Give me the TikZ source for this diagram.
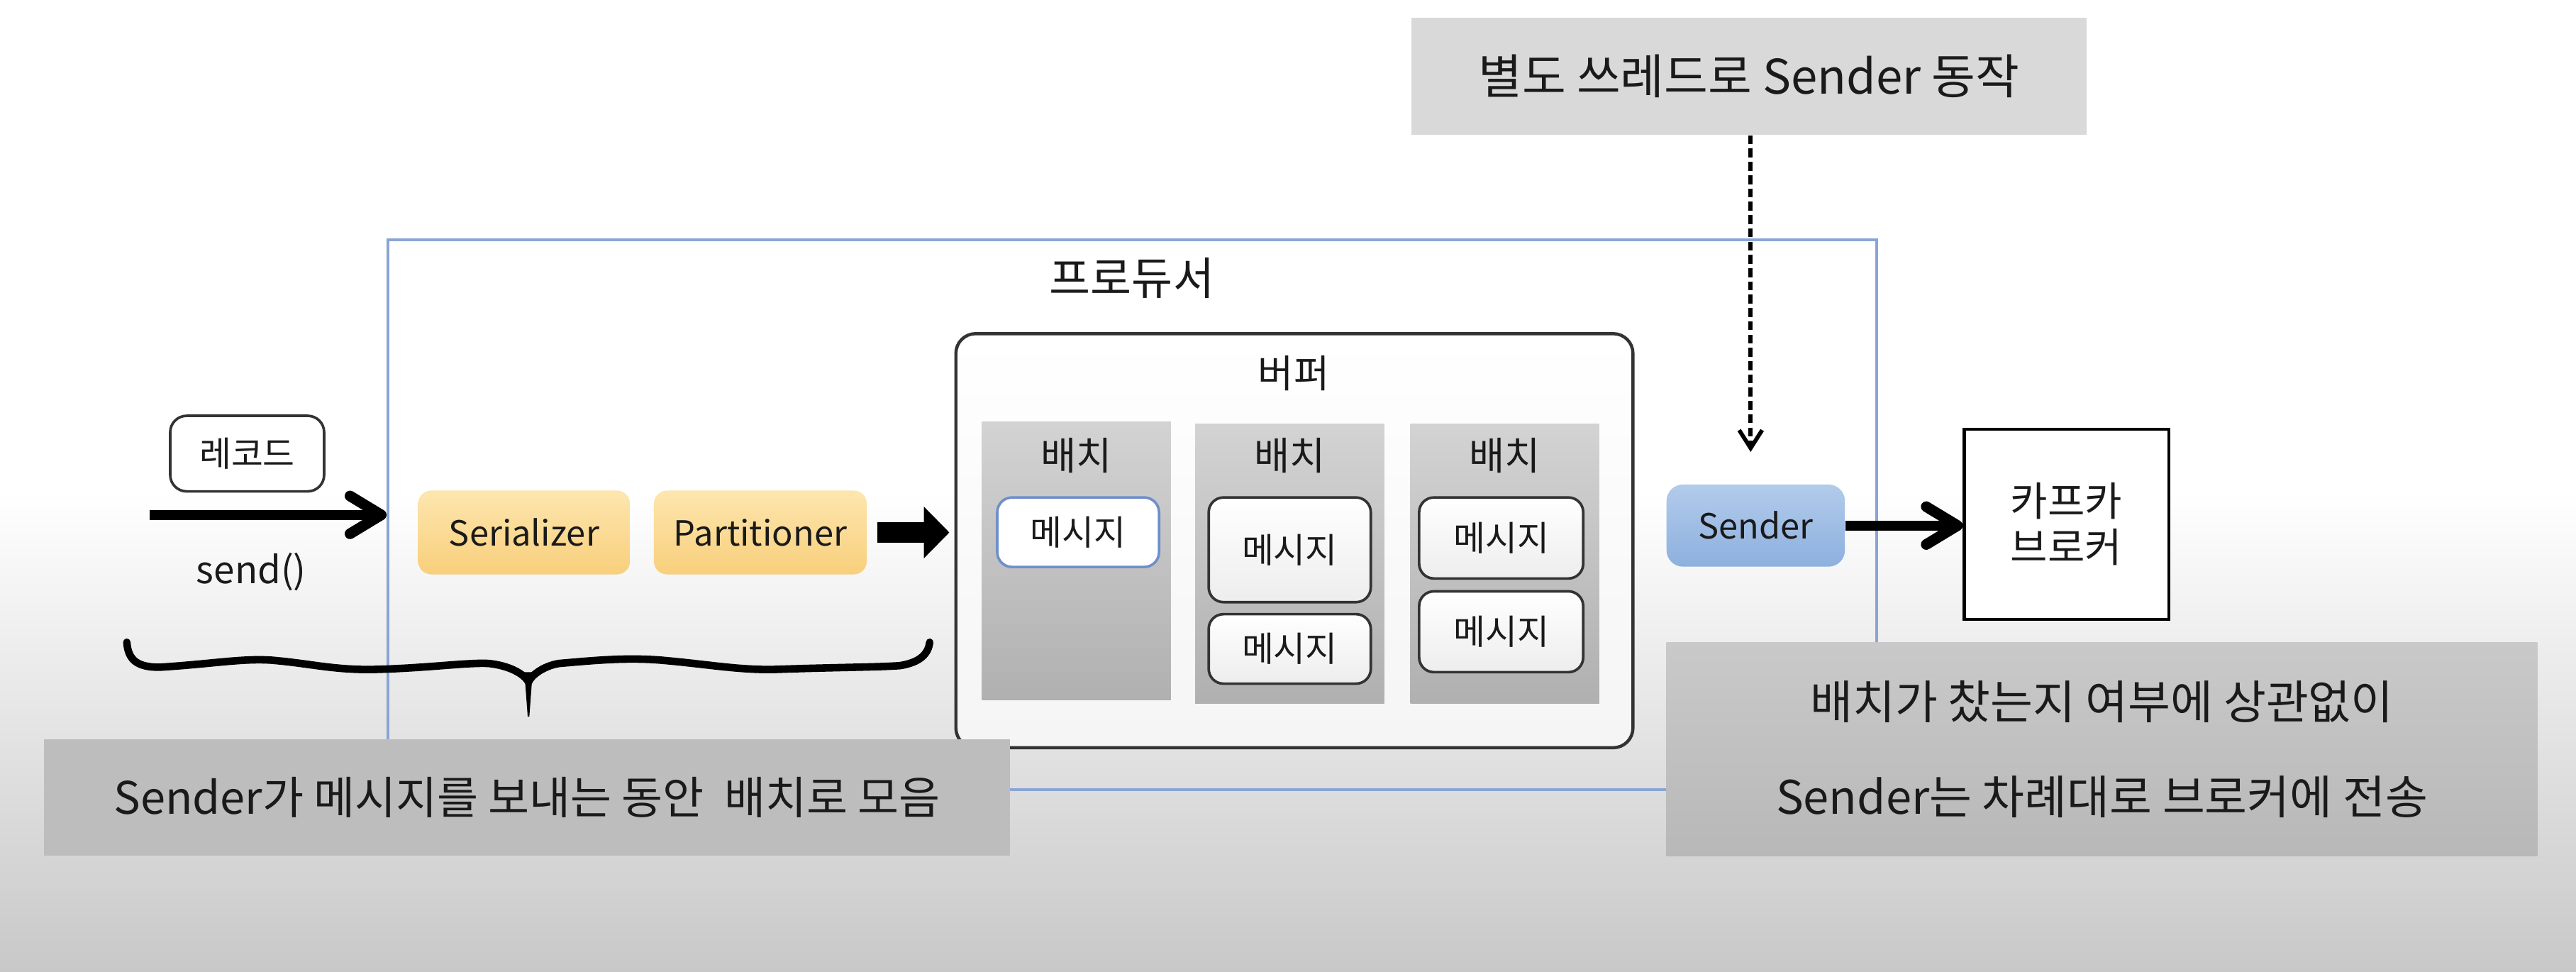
\documentclass[tikz,border=0pt]{standalone}
\usepackage{fontspec}
\setmainfont{Noto Sans CJK KR}
\usetikzlibrary{arrows.meta}
\definecolor{bggray}{HTML}{C8C8C8}
\definecolor{notegray}{HTML}{D9D9D9}
\definecolor{notegrayb}{HTML}{BDBDBD}
\definecolor{notetop}{HTML}{C9C9C9}
\definecolor{notebot}{HTML}{B8B8B8}
\definecolor{prodblue}{HTML}{8AA4D6}
\definecolor{msgblue}{HTML}{6F8FCB}
\definecolor{orangetop}{HTML}{FDE6AE}
\definecolor{orangebot}{HTML}{F8CF7C}
\definecolor{bluetop}{HTML}{B2CBEB}
\definecolor{bluebot}{HTML}{8DB0DE}
\definecolor{batchtop}{HTML}{D3D3D3}
\definecolor{batchbot}{HTML}{B0B0B0}
\definecolor{edge}{HTML}{333333}
\definecolor{ink}{HTML}{1A1A1A}
\tikzset{
  every node/.style={text=ink},
  notebox/.style={fill=notegray, inner sep=0pt},
  procbox/.style={rounded corners=0.16cm, inner sep=0pt, minimum height=1.02cm,
    top color=orangetop, bottom color=orangebot, font=\fontsize{12pt}{14pt}\selectfont},
  batchbox/.style={top color=batchtop, bottom color=batchbot, minimum width=2.3cm,
    minimum height=3.4cm, inner sep=0pt},
  msgbox/.style={draw=edge, line width=0.9pt, rounded corners=0.18cm, top color=white,
    bottom color=black!7, inner sep=0pt, font=\fontsize{12pt}{14pt}\selectfont},
  batchlabel/.style={font=\fontsize{13.4pt}{16pt}\selectfont},
  fatarrow/.style={line width=0.12cm,
    -{Straight Barb[length=0.38cm,width=0.46cm,line width=0.13cm,round]}},
  blockarrow/.style={line width=0.25cm, -{Triangle[length=0.31cm,width=0.61cm]}},
  dasharrow/.style={line width=1.4pt, dash pattern=on 3.1pt off 1.5pt,
    -{Straight Barb[length=0.22cm,width=0.28cm,line width=1.4pt]}},
  handtext/.style={font=\fontsize{16pt}{33pt}\selectfont, align=center},
}
\begin{document}
\begin{tikzpicture}[x=0.02cm, y=-0.02cm]
\useasboundingbox (0,0) rectangle (1568,591.4);
% background
\fill[white] (0,0) rectangle (1568,591.4);
\shade[top color=white, bottom color=bggray] (0,300) rectangle (1568,591.4);

% producer frame
\node[draw=prodblue, line width=0.9pt, minimum width=18.126cm, minimum height=6.69cm, inner sep=0pt]
  (producer) at (689.15,313.25) {};
\node[font=\fontsize{15.5pt}{18pt}\selectfont] (prodlabel) at (689,169) {프로듀서};

% buffer
\node[draw=edge, line width=1.1pt, rounded corners=0.24cm, top color=white, bottom color=black!4,
  minimum width=8.244cm, minimum height=5.04cm, inner sep=0pt] (buffer) at (787.9,329) {};
\node[batchlabel] (buflabel) at (787.5,227) {버퍼};

% batches
\node[batchbox, minimum height=3.39cm] (b1) at (655.25,341.25) {};
\node[batchbox] (b2) at (785,343) {};
\node[batchbox] (b3) at (916,343) {};
\node[batchlabel] (b1l) at (655,277) {배치};
\node[batchlabel] (b2l) at (785,277) {배치};
\node[batchlabel] (b3l) at (916,277) {배치};

% messages
\node[msgbox, draw=msgblue, bottom color=white, minimum width=1.97cm, minimum height=0.846cm] (m1) at (656.25,323.85) {메시지};
\node[msgbox, minimum width=1.974cm, minimum height=1.274cm] (m2a) at (785.05,334.55) {메시지};
\node[msgbox, minimum width=1.974cm, minimum height=0.846cm] (m2b) at (785.05,394.85) {메시지};
\node[msgbox, minimum width=1.998cm, minimum height=0.986cm] (m3a) at (913.75,327.35) {메시지};
\node[msgbox, minimum width=1.998cm, minimum height=0.984cm] (m3b) at (913.75,384.4) {메시지};

% record
\node[draw=edge, line width=0.9pt, rounded corners=0.2cm, fill=white, minimum width=1.874cm,
  minimum height=0.92cm, inner sep=0pt, font=\fontsize{12pt}{14pt}\selectfont] (record) at (150.45,276) {레코드};
\coordinate (recin) at (91,313.3);
\draw[fatarrow] (recin) -- (recin -| producer.west);
\node[font=\fontsize{13pt}{15pt}\selectfont] (sendlbl) at (153,348) {send()};

% serializer / partitioner
\node[procbox, minimum width=2.58cm] (serializer) at (319,324) {Serializer};
\node[procbox, minimum width=2.592cm] (partitioner) at (462.8,324) {Partitioner};
\draw[blockarrow, shorten <=0.12cm, shorten >=0.06cm] (partitioner.east) -- (buffer.west |- partitioner.east);

% thread note
\node[notebox, minimum width=8.22cm, minimum height=1.426cm, font=\fontsize{16.5pt}{20pt}\selectfont]
  (thread) at (1064.5,46.35) {별도 쓰레드로 Sender 동작};
\coordinate (dtip) at (1065.6,275);
\draw[dasharrow] (thread.south -| dtip) -- (dtip);

% sender and broker
\node[rounded corners=0.2cm, top color=bluetop, bottom color=bluebot, minimum width=2.172cm,
  minimum height=1.0cm, inner sep=0pt, font=\fontsize{12pt}{14pt}\selectfont] (sender) at (1068.7,319.8) {Sender};
\node[draw=black, line width=1pt, fill=white, minimum width=2.488cm, minimum height=2.32cm,
  inner sep=0pt, align=center, font=\fontsize{14pt}{15.9pt}\selectfont] (broker) at (1257.8,319) {카프카\\브로커};
\draw[fatarrow] (sender.east) -- (broker.west |- sender.east);

% brace
\draw[line width=2.6pt, line cap=round]
  (77.2,390.8) .. controls (78,402) and (84,406) .. (97,406)
  .. controls (130,404) and (150,400) .. (168.5,402)
  .. controls (190,404) and (205,408) .. (229.4,407.3)
  .. controls (260,406.5) and (285,403) .. (297.4,403.7)
  .. controls (310,405) and (319,410) .. (321.7,415)
  .. controls (324,410) and (332,405) .. (340.3,403.7)
  .. controls (360,402) and (380,400) .. (401.2,401.6)
  .. controls (430,404) and (450,408) .. (472.8,407.3)
  .. controls (510,406) and (535,406) .. (548,405)
  .. controls (560,403) and (565,398) .. (565.9,390.8);
\fill (319.2,409) -- (324.2,409) -- (322.2,436) -- (321.2,436) -- cycle;

% bottom notes
\node[notebox, fill=notegrayb, minimum width=11.77cm, minimum height=1.414cm, handtext,
  font=\fontsize{15.5pt}{33pt}\selectfont]
  (noteL) at (320.75,485.35) {Sender가 메시지를 보내는 동안\ \ 배치로 모음};
\node[notebox, top color=notetop, bottom color=notebot, minimum width=10.604cm, minimum height=2.594cm, handtext]
  (noteR) at (1279.4,455.85) {배치가 찼는지 여부에 상관없이\\Sender는 차례대로 브로커에 전송};
\end{tikzpicture}
\end{document}
